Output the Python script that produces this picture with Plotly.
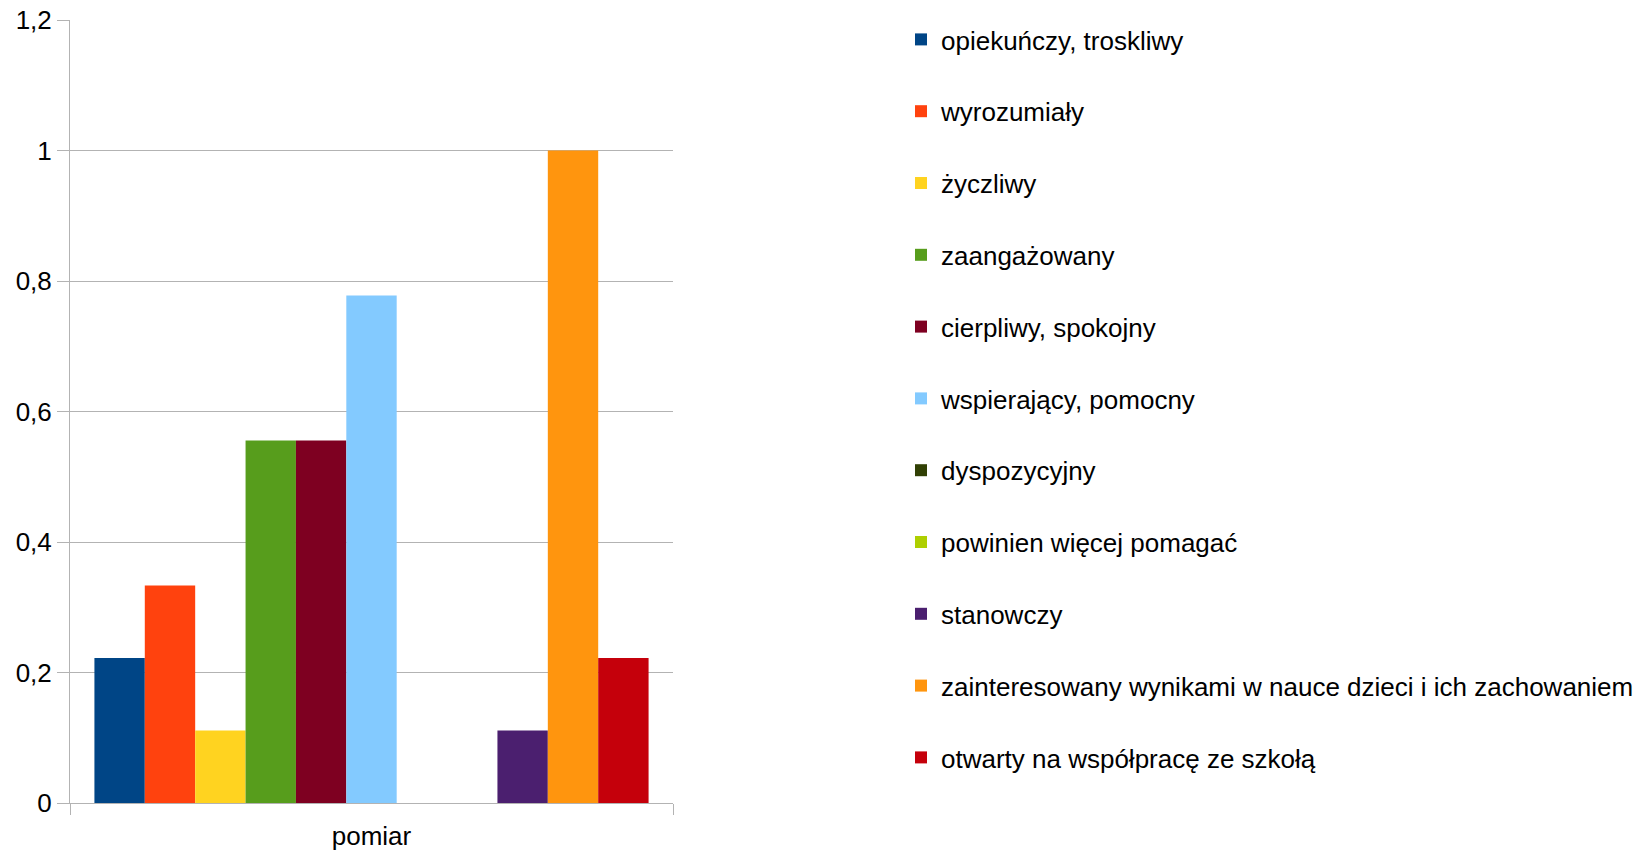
import plotly.graph_objects as go

categories = ["pomiar"]
series_names = [
    "opiekuńczy, troskliwy",
    "wyrozumiały",
    "życzliwy",
    "zaangażowany",
    "cierpliwy, spokojny",
    "wspierający, pomocny",
    "dyspozycyjny",
    "powinien więcej pomagać",
    "stanowczy",
    "zainteresowany wynikami w nauce dzieci i ich zachowaniem",
    "otwarty na współpracę ze szkołą",
]
series_values = [0.2222, 0.3333, 0.1111, 0.5556, 0.5556, 0.7778, 0, 0, 0.1111, 1.0, 0.2222]
series_colors = ["#004586", "#ff420e", "#ffd320", "#579d1c", "#7e0021", "#83caff",
                 "#314004", "#aecf00", "#4b1f6f", "#ff950e", "#c5000b"]
y_tickvals = [0, 0.2, 0.4, 0.6, 0.8, 1.0, 1.2]
y_ticktext = ["0", "0,2", "0,4", "0,6", "0,8", "1", "1,2"]

FONT = "Liberation Sans, Arial, sans-serif"
FS = 26

fig = go.Figure()
for i, (name, val, col) in enumerate(zip(series_names, series_values, series_colors)):
    fig.add_trace(go.Bar(
        x=categories, y=[val], name=name,
        marker=dict(color=col, line=dict(width=0)),
        legendgroup=f"g{i}",
    ))

W, H = 1651, 852
L, T = 70, 20
PW, PH = 603, 783
fig.update_layout(
    width=W, height=H,
    margin=dict(l=L, r=W - L - PW, t=T, b=H - T - PH, autoexpand=False),
    paper_bgcolor="white", plot_bgcolor="white",
    barmode="group", bargap=0.081, bargroupgap=0,
    font=dict(family=FONT, size=FS, color="black"),
    showlegend=True,
    legend=dict(
        x=(942 - 41 - L) / PW, xanchor="left",
        y=1 + 4 / PH, yanchor="top",
        font=dict(family=FONT, size=FS, color="black"),
        tracegroupgap=35, traceorder="grouped",
        maxheight=845,
        bgcolor="rgba(0,0,0,0)", itemclick=False,
    ),
)
fig.update_xaxes(
    type="category", range=[-0.5, 0.5],
    showline=True, linecolor="#b3b3b3", linewidth=1,
    showgrid=True, gridcolor="#b3b3b3", gridwidth=1,
    tickson="boundaries", ticks="outside", ticklen=11, tickcolor="#b3b3b3",
    ticklabelstandoff=10,
    tickfont=dict(family=FONT, size=FS, color="black"),
    zeroline=False,
)
fig.update_yaxes(
    range=[0, 1.2], tickvals=y_tickvals, ticktext=y_ticktext,
    showline=True, linecolor="#b3b3b3", linewidth=1,
    showgrid=True, gridcolor="#b3b3b3", gridwidth=1,
    ticks="outside", ticklen=12, tickcolor="#b3b3b3",
    tickfont=dict(family=FONT, size=FS, color="black"),
    zeroline=False,
)

fig.write_html(
    "out.html",
    config={"displayModeBar": False},
    post_script="document.body.style.margin='0';document.body.style.overflow='hidden';",
)
